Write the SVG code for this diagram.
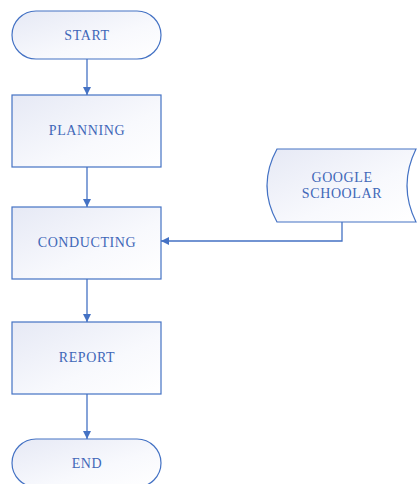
<svg xmlns="http://www.w3.org/2000/svg" width="420" height="484" viewBox="0 0 420 484">
<defs>
<linearGradient id="g" x1="0" y1="0" x2="1" y2="1">
<stop offset="0" stop-color="#e6e9f5"/>
<stop offset="0.6" stop-color="#f8f9fd"/>
<stop offset="1" stop-color="#ffffff"/>
</linearGradient>
<marker id="a" viewBox="0 0 10 10" refX="10" refY="5" markerWidth="8" markerHeight="8" markerUnits="userSpaceOnUse" orient="auto">
<path d="M0,0 L10,5 L0,10 z" fill="#4472c4"/>
</marker>
<style>
.s{fill:url(#g);stroke:#4472c4;stroke-width:1.2}
.t{font-family:"Liberation Serif","Times New Roman",serif;font-size:14px;fill:#3f67b8;text-anchor:middle;letter-spacing:0.6px}
.c{fill:none;stroke:#4472c4;stroke-width:1.3;marker-end:url(#a)}
</style>
</defs>
<g id="start"><rect class="s" x="12" y="11" width="149" height="48" rx="24"/><text class="t" x="87" y="40">START</text></g>
<g id="planning"><rect class="s" x="12" y="95" width="149" height="72"/><text class="t" x="87" y="135">PLANNING</text></g>
<g id="conducting"><rect class="s" x="12" y="207" width="149" height="72"/><text class="t" x="87" y="247">CONDUCTING</text></g>
<g id="report"><rect class="s" x="12" y="322" width="149" height="72"/><text class="t" x="87" y="362">REPORT</text></g>
<g id="end"><rect class="s" x="12" y="439" width="149" height="48" rx="24"/><text class="t" x="87" y="468">END</text></g>
<g id="google"><path class="s" d="M277,149 L416,149 Q398,185.5 416,222 L277,222 Q257,185.5 277,149 Z"/><text class="t" x="342" y="182">GOOGLE</text><text class="t" x="342" y="198">SCHOOLAR</text></g>
<g id="connectors">
<path class="c" d="M87,59 L87,95"/>
<path class="c" d="M87,167 L87,207"/>
<path class="c" d="M87,279 L87,322"/>
<path class="c" d="M87,394 L87,439"/>
<path class="c" d="M342,222 L342,241 L161,241"/>
</g>
</svg>
